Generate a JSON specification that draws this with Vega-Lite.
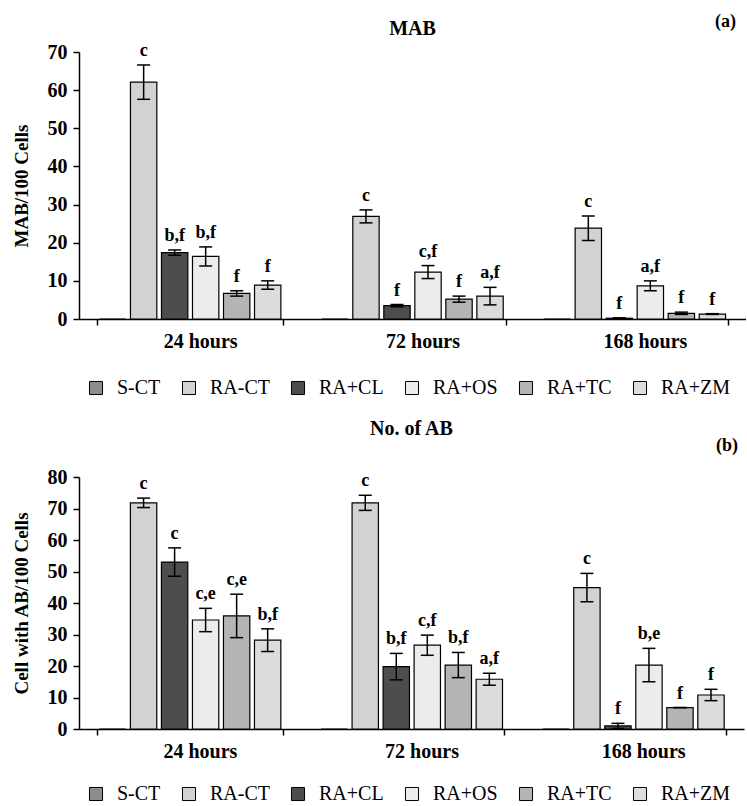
{
  "$schema": "https://vega.github.io/schema/vega-lite/v6.json",
  "padding": {"left": 12, "top": 12, "right": 0, "bottom": 0},
  "background": "white",
  "spacing": 21,
  "resolve": {"legend": {"fill": "independent"}},
  "config": {
    "font": "Liberation Serif",
    "view": {"stroke": null},
    "axis": {"labelFont": "Liberation Serif", "titleFont": "Liberation Serif", "labelFontWeight": "bold", "titleFontWeight": "bold", "labelFontSize": 20, "titleFontSize": 19, "labelColor": "black", "titleColor": "black", "domainColor": "black", "tickColor": "black", "grid": false, "domainWidth": 1.5, "tickWidth": 1.5, "tickSize": 6},
    "axisY": {"labelPadding": 6, "titlePadding": 16},
    "title": {"font": "Liberation Serif", "fontWeight": "bold", "color": "black"},
    "legend": {"labelFont": "Liberation Serif", "labelFontSize": 20, "labelColor": "black"}
  },
  "datasets": {
    "mab": [
      {"time": "24 hours", "group": "S-CT", "value": 0, "lo": null, "hi": null, "label": ""},
      {"time": "24 hours", "group": "RA-CT", "value": 62.1, "lo": 57.6, "hi": 66.6, "label": "c"},
      {"time": "24 hours", "group": "RA+CL", "value": 17.4, "lo": 16.7, "hi": 18.1, "label": "b,f"},
      {"time": "24 hours", "group": "RA+OS", "value": 16.4, "lo": 13.9, "hi": 18.9, "label": "b,f"},
      {"time": "24 hours", "group": "RA+TC", "value": 6.7, "lo": 6.0, "hi": 7.4, "label": "f"},
      {"time": "24 hours", "group": "RA+ZM", "value": 8.9, "lo": 7.8, "hi": 10.0, "label": "f"},
      {"time": "72 hours", "group": "S-CT", "value": 0, "lo": null, "hi": null, "label": ""},
      {"time": "72 hours", "group": "RA-CT", "value": 26.9, "lo": 25.2, "hi": 28.6, "label": "c"},
      {"time": "72 hours", "group": "RA+CL", "value": 3.5, "lo": 3.2, "hi": 3.8, "label": "f"},
      {"time": "72 hours", "group": "RA+OS", "value": 12.3, "lo": 10.6, "hi": 14.0, "label": "c,f"},
      {"time": "72 hours", "group": "RA+TC", "value": 5.2, "lo": 4.4, "hi": 6.0, "label": "f"},
      {"time": "72 hours", "group": "RA+ZM", "value": 6.0, "lo": 3.7, "hi": 8.3, "label": "a,f"},
      {"time": "168 hours", "group": "S-CT", "value": 0, "lo": null, "hi": null, "label": ""},
      {"time": "168 hours", "group": "RA-CT", "value": 23.8, "lo": 20.6, "hi": 27.0, "label": "c"},
      {"time": "168 hours", "group": "RA+CL", "value": 0.2, "lo": 0.1, "hi": 0.3, "label": "f"},
      {"time": "168 hours", "group": "RA+OS", "value": 8.7, "lo": 7.4, "hi": 10.0, "label": "a,f"},
      {"time": "168 hours", "group": "RA+TC", "value": 1.5, "lo": 1.2, "hi": 1.8, "label": "f"},
      {"time": "168 hours", "group": "RA+ZM", "value": 1.3, "lo": 1.2, "hi": 1.4, "label": "f"}
    ],
    "ab": [
      {"time": "24 hours", "group": "S-CT", "value": 0, "lo": null, "hi": null, "label": ""},
      {"time": "24 hours", "group": "RA-CT", "value": 71.8, "lo": 70.3, "hi": 73.3, "label": "c"},
      {"time": "24 hours", "group": "RA+CL", "value": 53.0, "lo": 48.5, "hi": 57.5, "label": "c"},
      {"time": "24 hours", "group": "RA+OS", "value": 34.6, "lo": 30.9, "hi": 38.3, "label": "c,e"},
      {"time": "24 hours", "group": "RA+TC", "value": 35.9, "lo": 29.0, "hi": 42.8, "label": "c,e"},
      {"time": "24 hours", "group": "RA+ZM", "value": 28.2, "lo": 24.6, "hi": 31.8, "label": "b,f"},
      {"time": "72 hours", "group": "S-CT", "value": 0, "lo": null, "hi": null, "label": ""},
      {"time": "72 hours", "group": "RA-CT", "value": 71.8, "lo": 69.4, "hi": 74.2, "label": "c"},
      {"time": "72 hours", "group": "RA+CL", "value": 19.8, "lo": 15.6, "hi": 24.0, "label": "b,f"},
      {"time": "72 hours", "group": "RA+OS", "value": 26.6, "lo": 23.4, "hi": 29.8, "label": "c,f"},
      {"time": "72 hours", "group": "RA+TC", "value": 20.3, "lo": 16.3, "hi": 24.3, "label": "b,f"},
      {"time": "72 hours", "group": "RA+ZM", "value": 15.8, "lo": 13.9, "hi": 17.7, "label": "a,f"},
      {"time": "168 hours", "group": "S-CT", "value": 0, "lo": null, "hi": null, "label": ""},
      {"time": "168 hours", "group": "RA-CT", "value": 44.9, "lo": 40.4, "hi": 49.4, "label": "c"},
      {"time": "168 hours", "group": "RA+CL", "value": 1.0, "lo": 0.2, "hi": 1.8, "label": "f"},
      {"time": "168 hours", "group": "RA+OS", "value": 20.3, "lo": 15.0, "hi": 25.6, "label": "b,e"},
      {"time": "168 hours", "group": "RA+TC", "value": 6.8, "lo": 6.8, "hi": 6.8, "label": "f"},
      {"time": "168 hours", "group": "RA+ZM", "value": 10.8, "lo": 9.0, "hi": 12.6, "label": "f"}
    ]
  },
  "vconcat": [
    {
      "title": {"text": "(a)", "anchor": "end", "fontSize": 18, "dy": 16, "dx": -10},
      "vconcat": [
        {
          "title": {"text": "MAB", "anchor": "middle", "fontSize": 20, "offset": 3},
          "width": 667,
          "height": 267,
          "data": {"name": "mab"},
          "encoding": {
            "x": {"field": "time", "type": "nominal", "sort": ["24 hours", "72 hours", "168 hours"], "scale": {"paddingInner": 0.163, "paddingOuter": 0.0815}, "axis": {"title": null, "labelAngle": 0, "tickBand": "extent", "labelOffset": 10, "labelPadding": 6}},
            "xOffset": {"field": "group", "type": "nominal", "sort": ["S-CT", "RA-CT", "RA+CL", "RA+OS", "RA+TC", "RA+ZM"], "scale": {"paddingInner": 0.15, "paddingOuter": 0.075}}
          },
          "layer": [
            {
              "mark": {"type": "bar", "stroke": "black", "strokeWidth": 1.2},
              "encoding": {
                "y": {"field": "value", "type": "quantitative", "title": "MAB/100 Cells", "scale": {"domain": [0, 70], "nice": false}, "axis": {"values": [0, 10, 20, 30, 40, 50, 60, 70], "labelOverlap": false}},
                "fill": {"field": "group", "type": "nominal", "scale": {"domain": ["S-CT", "RA-CT", "RA+CL", "RA+OS", "RA+TC", "RA+ZM"], "range": ["#8c8c8c", "#d2d2d2", "#4d4d4d", "#ececec", "#b4b4b4", "#dcdcdc"]}, "legend": {"orient": "none", "legendX": 7, "legendY": 326, "direction": "horizontal", "columns": 6, "title": null, "symbolType": "square", "symbolSize": 170, "symbolStrokeColor": "black", "symbolStrokeWidth": 1, "columnPadding": 18, "labelOffset": 11}}
              }
            },
            {
              "mark": {"type": "rule", "color": "black", "strokeWidth": 1.5},
              "encoding": {"y": {"field": "lo", "type": "quantitative", "title": "MAB/100 Cells", "axis": {"values": [0, 10, 20, 30, 40, 50, 60, 70], "labelOverlap": false}}, "y2": {"field": "hi"}}
            },
            {
              "mark": {"type": "tick", "color": "black", "thickness": 1.5, "size": 13, "opacity": 1},
              "encoding": {"y": {"field": "hi", "type": "quantitative", "title": "MAB/100 Cells", "axis": {"values": [0, 10, 20, 30, 40, 50, 60, 70], "labelOverlap": false}}}
            },
            {
              "mark": {"type": "tick", "color": "black", "thickness": 1.5, "size": 13, "opacity": 1},
              "encoding": {"y": {"field": "lo", "type": "quantitative", "title": "MAB/100 Cells", "axis": {"values": [0, 10, 20, 30, 40, 50, 60, 70], "labelOverlap": false}}}
            },
            {
              "mark": {"type": "text", "baseline": "bottom", "dy": -5, "fontSize": 18, "fontWeight": "bold", "font": "Liberation Serif", "color": "black"},
              "encoding": {"y": {"field": "hi", "type": "quantitative", "title": "MAB/100 Cells", "axis": {"values": [0, 10, 20, 30, 40, 50, 60, 70], "labelOverlap": false}}, "text": {"field": "label"}}
            }
          ]
        }
      ]
    },
    {
      "title": {"text": "(b)", "anchor": "end", "fontSize": 18, "dy": 40, "dx": -6},
      "vconcat": [
        {
          "title": {"text": "No. of AB", "anchor": "middle", "fontSize": 20, "offset": 28},
          "width": 665,
          "height": 252,
          "data": {"name": "ab"},
          "encoding": {
            "x": {"field": "time", "type": "nominal", "sort": ["24 hours", "72 hours", "168 hours"], "scale": {"paddingInner": 0.163, "paddingOuter": 0.0815}, "axis": {"title": null, "labelAngle": 0, "tickBand": "extent", "labelOffset": 10, "labelPadding": 6}},
            "xOffset": {"field": "group", "type": "nominal", "sort": ["S-CT", "RA-CT", "RA+CL", "RA+OS", "RA+TC", "RA+ZM"], "scale": {"paddingInner": 0.15, "paddingOuter": 0.075}}
          },
          "layer": [
            {
              "mark": {"type": "bar", "stroke": "black", "strokeWidth": 1.2},
              "encoding": {
                "y": {"field": "value", "type": "quantitative", "title": "Cell with AB/100 Cells", "scale": {"domain": [0, 80], "nice": false}, "axis": {"values": [0, 10, 20, 30, 40, 50, 60, 70, 80], "labelOverlap": false}},
                "fill": {"field": "group", "type": "nominal", "scale": {"domain": ["S-CT", "RA-CT", "RA+CL", "RA+OS", "RA+TC", "RA+ZM"], "range": ["#8c8c8c", "#d2d2d2", "#4d4d4d", "#ececec", "#b4b4b4", "#dcdcdc"]}, "legend": {"orient": "none", "legendX": 7, "legendY": 307, "direction": "horizontal", "columns": 6, "title": null, "symbolType": "square", "symbolSize": 170, "symbolStrokeColor": "black", "symbolStrokeWidth": 1, "columnPadding": 18, "labelOffset": 11}}
              }
            },
            {
              "mark": {"type": "rule", "color": "black", "strokeWidth": 1.5},
              "encoding": {"y": {"field": "lo", "type": "quantitative", "title": "Cell with AB/100 Cells", "axis": {"values": [0, 10, 20, 30, 40, 50, 60, 70, 80], "labelOverlap": false}}, "y2": {"field": "hi"}}
            },
            {
              "mark": {"type": "tick", "color": "black", "thickness": 1.5, "size": 13, "opacity": 1},
              "encoding": {"y": {"field": "hi", "type": "quantitative", "title": "Cell with AB/100 Cells", "axis": {"values": [0, 10, 20, 30, 40, 50, 60, 70, 80], "labelOverlap": false}}}
            },
            {
              "mark": {"type": "tick", "color": "black", "thickness": 1.5, "size": 13, "opacity": 1},
              "encoding": {"y": {"field": "lo", "type": "quantitative", "title": "Cell with AB/100 Cells", "axis": {"values": [0, 10, 20, 30, 40, 50, 60, 70, 80], "labelOverlap": false}}}
            },
            {
              "mark": {"type": "text", "baseline": "bottom", "dy": -5, "fontSize": 18, "fontWeight": "bold", "font": "Liberation Serif", "color": "black"},
              "encoding": {"y": {"field": "hi", "type": "quantitative", "title": "Cell with AB/100 Cells", "axis": {"values": [0, 10, 20, 30, 40, 50, 60, 70, 80], "labelOverlap": false}}, "text": {"field": "label"}}
            }
          ]
        }
      ]
    }
  ]
}
